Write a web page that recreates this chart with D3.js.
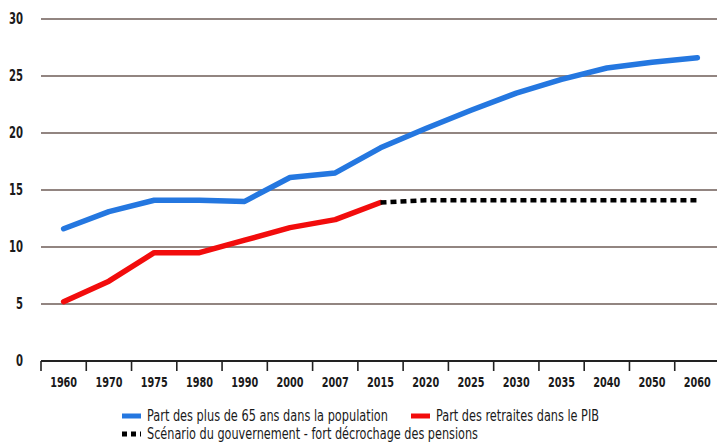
<!DOCTYPE html>
<html>
<head>
<meta charset="utf-8">
<script src="https://cdn.jsdelivr.net/npm/d3@7"></script>
<style>
  body { margin: 0; background: #fff; }
  svg text { font-family: "DejaVu Sans Condensed", "DejaVu Sans", sans-serif; font-stretch: condensed; fill: #1a1a1a; }
</style>
</head>
<body>
<svg id="chart" width="717" height="444"></svg>
<script>
var years = ["1960","1970","1975","1980","1990","2000","2007","2015","2020","2025","2030","2035","2040","2050","2060"];
var seniors = [11.6, 13.1, 14.1, 14.1, 14.0, 16.1, 16.5, 18.7, 20.4, 22.0, 23.5, 24.7, 25.7, 26.2, 26.6];
var pensionYears = ["1960","1970","1975","1980","1990","2000","2007","2015"];
var pensions = [5.2, 7.0, 9.5, 9.5, 10.6, 11.7, 12.4, 13.9];
var scenarioYears = ["2015","2020","2025","2030","2035","2040","2050","2060"];
var scenario = [13.9, 14.1, 14.1, 14.1, 14.1, 14.1, 14.1, 14.1];
var yTicks = [0, 5, 10, 15, 20, 25, 30];

var svg = d3.select("#chart");

var x = d3.scaleBand().domain(years).range([41, 720]);
var y = d3.scaleLinear().domain([0, 30]).range([361, 19]);

// gridlines
svg.append("g")
    .selectAll("line")
    .data(yTicks.filter(function (d) { return d > 0; }))
    .join("line")
    .attr("x1", 41).attr("x2", 717)
    .attr("y1", function (d) { return y(d); })
    .attr("y2", function (d) { return y(d); })
    .attr("stroke", "#6e5c57")
    .attr("stroke-width", 1.6);

// y labels
svg.append("g")
    .selectAll("text")
    .data(yTicks)
    .join("text")
    .attr("x", 23)
    .attr("y", function (d) { return y(d); })
    .attr("dy", "0.35em")
    .attr("text-anchor", "end")
    .attr("font-size", 15)
    .attr("font-weight", "bold")
    .attr("textLength", function (d) { return d < 10 ? 7 : 14; })
    .attr("lengthAdjust", "spacingAndGlyphs")
    .text(function (d) { return d; });

// x axis
var xAxis = svg.append("g")
    .attr("transform", "translate(0," + y(0) + ")");
xAxis.append("line")
    .attr("x1", 41).attr("x2", 717)
    .attr("stroke", "#222").attr("stroke-width", 2);
xAxis.selectAll("line.tick")
    .data(years)
    .join("line")
    .attr("class", "tick")
    .attr("x1", function (d) { return x(d); })
    .attr("x2", function (d) { return x(d); })
    .attr("y1", 0).attr("y2", 10)
    .attr("stroke", "#222").attr("stroke-width", 1.6);
xAxis.selectAll("text")
    .data(years)
    .join("text")
    .attr("x", function (d) { return x(d) + x.bandwidth() / 2; })
    .attr("y", 21)
    .attr("dy", "0.35em")
    .attr("text-anchor", "middle")
    .attr("font-size", 14)
    .attr("font-weight", "bold")
    .attr("textLength", 27)
    .attr("lengthAdjust", "spacingAndGlyphs")
    .text(function (d) { return d; });

var cx = function (d) { return x(d) + x.bandwidth() / 2; };

function drawLine(xs, vals, color, dash) {
    var line = d3.line()
        .x(function (d, i) { return cx(xs[i]); })
        .y(function (d) { return y(d); });
    svg.append("path")
        .datum(vals)
        .attr("d", line)
        .attr("fill", "none")
        .attr("stroke", color)
        .attr("stroke-width", dash ? 4.5 : 5.5)
        .attr("stroke-linecap", dash ? "butt" : "round")
        .attr("stroke-linejoin", "round")
        .attr("stroke-dasharray", dash || null);
}

drawLine(years, seniors, "#2477e0");
drawLine(pensionYears, pensions, "#f20c0c");
drawLine(scenarioYears, scenario, "#000", "6,4");

// legend
var legend = [
    {label: "Part des plus de 65 ans dans la population", color: "#2477e0", x: 122, y: 416, w: 241},
    {label: "Part des retraites dans le PIB", color: "#f20c0c", x: 411, y: 416, w: 163},
    {label: "Scénario du gouvernement - fort décrochage des pensions", color: "#000", x: 122, y: 434, w: 331, dash: "5,4"}
];
var lg = svg.append("g").selectAll("g").data(legend).join("g");
lg.append("line")
    .attr("x1", function (d) { return d.x; })
    .attr("x2", function (d) { return d.x + 19; })
    .attr("y1", function (d) { return d.y; })
    .attr("y2", function (d) { return d.y; })
    .attr("stroke", function (d) { return d.color; })
    .attr("stroke-width", 5)
    .attr("stroke-dasharray", function (d) { return d.dash || null; });
lg.append("text")
    .attr("x", function (d) { return d.x + 25; })
    .attr("y", function (d) { return d.y; })
    .attr("dy", "0.35em")
    .attr("font-size", 15)
    .attr("textLength", function (d) { return d.w; })
    .attr("lengthAdjust", "spacingAndGlyphs")
    .text(function (d) { return d.label; });
</script>
</body>
</html>
